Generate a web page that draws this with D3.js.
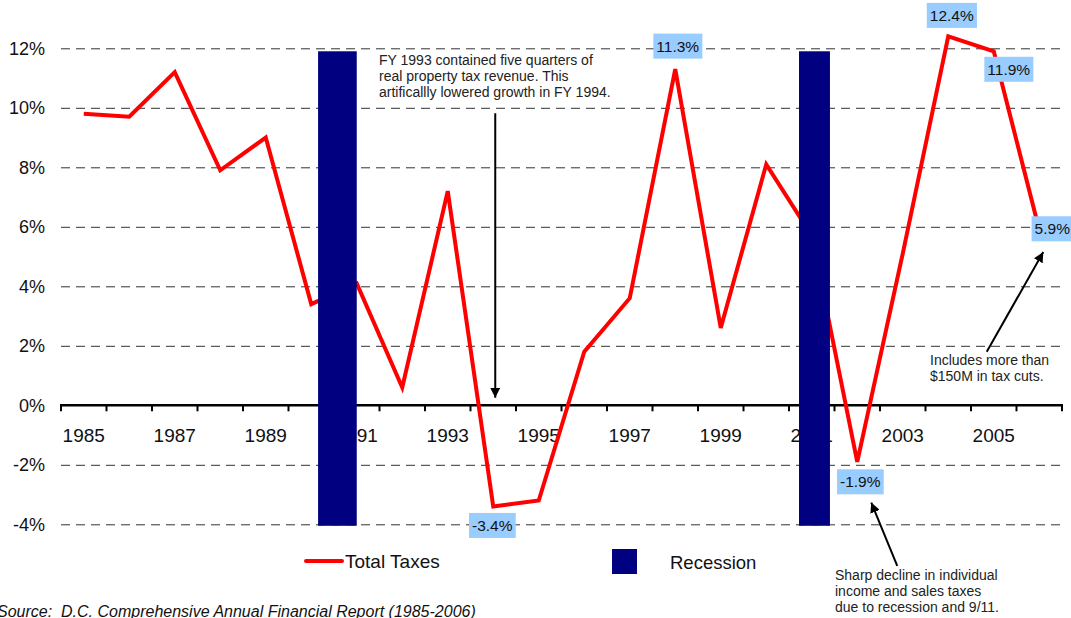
<!DOCTYPE html>
<html>
<head>
<meta charset="utf-8">
<script src="https://cdn.jsdelivr.net/npm/d3@7"></script>
<style>
  body { margin: 0; background: #fff; }
  svg { display: block; font-family: "Liberation Sans", Arial, sans-serif; }
  .grid line { stroke: #333; stroke-width: 1; stroke-dasharray: 9,6; }
  .note { font-size: 14px; fill: #222; }
</style>
</head>
<body>
<div id="chart"></div>
<script>
// fiscal years and total tax growth (%)
var years = d3.range(1985, 2007);
var totalTaxes = [9.8, 9.7, 11.2, 7.9, 9.0, 3.4, 4.1, 0.6, 7.2, -3.4, -3.2, 1.8,
                  3.6, 11.3, 2.6, 8.1, 5.7, -1.9, 5.1, 12.4, 11.9, 5.9];
var yTicks = [-4, -2, 0, 2, 4, 6, 8, 10, 12];
var xTickLabels = [1985, 1987, 1989, 1991, 1993, 1995, 1997, 1999, 2001, 2003, 2005];
// recession periods, in fractional years, and their vertical extent (%)
var recessions = [[1990.15, 1991.0], [2000.72, 2001.4]];
var recessionRange = [-4.05, 11.9];
var labeledYears = [1994, 1998, 2002, 2004, 2005, 2006];

var W = 1071, H = 618;

var svg = d3.select("#chart").append("svg")
    .attr("width", W)
    .attr("height", H);

var x = d3.scaleBand()
    .domain(years)
    .range([61, 1062])
    .padding(0);
var cx = function(yr) { return x(yr) + x.bandwidth() / 2; };
var xt = d3.scaleLinear()
    .domain([years[0], years[years.length - 1]])
    .range([cx(years[0]), cx(years[years.length - 1])]);

var y = d3.scaleLinear()
    .domain([-4, 12])
    .range([524.3, 48.3]);

/**
 * gridlines
 */
svg.append("g")
    .attr("class", "grid")
    .selectAll("line")
    .data(yTicks.filter(function(d) { return d !== 0; }))
    .join("line")
    .attr("x1", 61)
    .attr("x2", 1062)
    .attr("y1", function(d) { return y(d) + 0.5; })
    .attr("y2", function(d) { return y(d) + 0.5; });

// y labels
svg.append("g")
    .selectAll("text")
    .data(yTicks)
    .join("text")
    .attr("x", 45)
    .attr("y", function(d) { return y(d); })
    .attr("dy", "0.36em")
    .attr("text-anchor", "end")
    .style("font-size", "18px")
    .style("fill", "#111")
    .text(function(d) { return d + "%"; });

/**
 * x axis at 0%
 */
var xAxis = svg.append("g")
    .attr("transform", "translate(0," + y(0) + ")");
xAxis.append("line")
    .attr("x1", 60)
    .attr("x2", 1063)
    .style("stroke", "#000")
    .style("stroke-width", 2.5);
xAxis.selectAll(".tick")
    .data(years.concat([years[years.length - 1] + 1]))
    .join("line")
    .attr("x1", function(d, i) { return i < years.length ? x(d) : x.range()[1]; })
    .attr("x2", function(d, i) { return i < years.length ? x(d) : x.range()[1]; })
    .attr("y1", 0)
    .attr("y2", 6)
    .style("stroke", "#000")
    .style("stroke-width", 2);
xAxis.selectAll("text")
    .data(xTickLabels)
    .join("text")
    .attr("x", function(d) { return cx(d); })
    .attr("y", 37)
    .attr("text-anchor", "middle")
    .style("font-size", "19px")
    .style("fill", "#111")
    .text(function(d) { return d; });

/**
 * total taxes line
 */
var line = d3.line()
    .x(function(d, i) { return cx(years[i]); })
    .y(function(d) { return y(d); });

svg.append("path")
    .datum(totalTaxes)
    .attr("d", line)
    .style("fill", "none")
    .style("stroke", "#ff0000")
    .style("stroke-width", 4)
    .style("stroke-linejoin", "miter");

/**
 * recession bars
 */
svg.append("g")
    .selectAll("rect")
    .data(recessions)
    .join("rect")
    .attr("x", function(d) { return xt(d[0]); })
    .attr("width", function(d) { return xt(d[1]) - xt(d[0]); })
    .attr("y", y(recessionRange[1]))
    .attr("height", y(recessionRange[0]) - y(recessionRange[1]))
    .style("fill", "#000080");

/**
 * data labels
 */
var placement = {
    1994: [-1, 19], 1998: [2.5, -23], 2002: [3, 20],
    2004: [3.5, -21], 2005: [15, 18], 2006: [13, -1]
};
var lbl = svg.append("g")
    .selectAll("g")
    .data(labeledYears)
    .join("g")
    .attr("transform", function(d) {
        var v = totalTaxes[years.indexOf(d)];
        return "translate(" + (cx(d) + placement[d][0]) + "," + (y(v) + placement[d][1]) + ")";
    });
lbl.append("text")
    .attr("text-anchor", "middle")
    .attr("dy", "0.36em")
    .style("font-size", "15.5px")
    .style("fill", "#111")
    .text(function(d) { return totalTaxes[years.indexOf(d)].toFixed(1) + "%"; })
    .each(function() {
        var b = this.getBBox();
        d3.select(this.parentNode).insert("rect", "text")
            .attr("x", b.x - 3)
            .attr("y", -12.5)
            .attr("width", b.width + 6)
            .attr("height", 25)
            .style("fill", "#99ccff");
    });

/**
 * annotations
 */
svg.append("defs").append("marker")
    .attr("id", "head")
    .attr("viewBox", "0 0 10 10")
    .attr("refX", 10)
    .attr("refY", 5)
    .attr("markerWidth", 5)
    .attr("markerHeight", 5)
    .attr("orient", "auto")
    .append("path")
    .attr("d", "M0,0L10,5L0,10z")
    .style("fill", "#000");

function arrow(x1, y1, x2, y2) {
    svg.append("line")
        .attr("x1", x1).attr("y1", y1)
        .attr("x2", x2).attr("y2", y2)
        .style("stroke", "#000")
        .style("stroke-width", 2)
        .attr("marker-end", "url(#head)");
}

function note(lines, x0, y0) {
    svg.append("text")
        .attr("class", "note")
        .selectAll("tspan")
        .data(lines)
        .join("tspan")
        .attr("x", x0)
        .attr("y", function(d, i) { return y0 + i * 16.2; })
        .text(function(d) { return d; });
}

note(["FY 1993 contained five quarters of",
      "real property tax revenue. This",
      "artificallly lowered growth in FY 1994."], 379, 65);
arrow(cx(1994) + 2, y(9.82), cx(1994) + 2, y(0.25));

note(["Includes more than", "$150M in tax cuts."], 930, 365);
arrow(cx(2005) - 7, y(1.8), cx(2006) + 4, y(5.15));

note(["Sharp decline in individual",
      "income and sales taxes",
      "due to recession and 9/11."], 835, 579.5);
arrow(cx(2002) + 40, y(-5.4), cx(2002) + 14, y(-3.27));

/**
 * legend
 */
var legend = svg.append("g");
legend.append("line")
    .attr("x1", 306).attr("x2", 342)
    .attr("y1", 561).attr("y2", 561)
    .style("stroke", "#ff0000")
    .style("stroke-width", 4)
    .style("stroke-linecap", "round");
legend.append("text")
    .attr("x", 345).attr("y", 567.5)
    .style("font-size", "19px")
    .style("fill", "#111")
    .text("Total Taxes");
legend.append("rect")
    .attr("x", 612).attr("y", 549)
    .attr("width", 25).attr("height", 25)
    .style("fill", "#000080");
legend.append("text")
    .attr("x", 670).attr("y", 569)
    .style("font-size", "18.5px")
    .style("fill", "#111")
    .text("Recession");

svg.append("text")
    .attr("x", -3).attr("y", 617)
    .style("font-size", "16px")
    .style("font-style", "italic")
    .style("fill", "#111")
    .style("white-space", "pre")
    .text("Source:  D.C. Comprehensive Annual Financial Report (1985-2006)");
</script>
</body>
</html>
